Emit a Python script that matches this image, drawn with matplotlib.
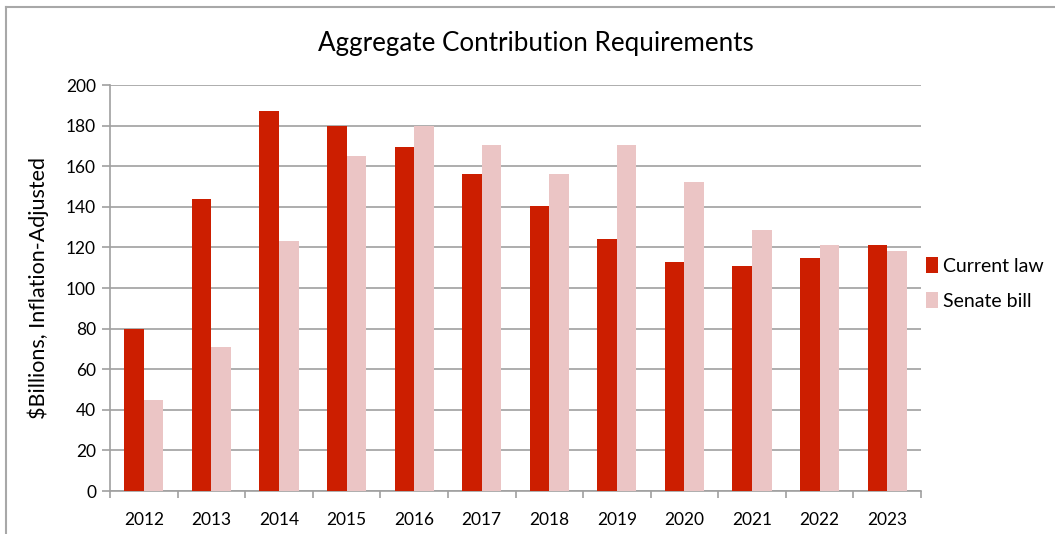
import matplotlib
matplotlib.use("Agg")
import matplotlib.pyplot as plt
from matplotlib.lines import Line2D
import numpy as np

years = ["2012", "2013", "2014", "2015", "2016", "2017", "2018", "2019", "2020", "2021", "2022", "2023"]
current_law = [80, 144, 187, 180, 169.5, 156, 140.5, 124, 113, 111, 115, 121]
senate_bill = [45, 71, 123, 165, 180, 170.5, 156, 170.5, 152, 128.5, 121, 118]

plt.rcParams['font.family'] = ['Lato', 'DejaVu Sans']

W, H = 1055, 534
AX_L, AX_R, AX_T, AX_B = 110, 921, 85, 491
AW, AH = AX_R - AX_L, AX_B - AX_T
fig = plt.figure(figsize=(W / 100, H / 100), dpi=100)
ax = fig.add_axes([AX_L / W, 1 - AX_B / H, AW / W, AH / H])

x = np.arange(len(years))
bw = 0.29
ax.bar(x - bw / 2, current_law, bw, color="#CC1E00", label="Current law", zorder=3)
ax.bar(x + bw / 2, senate_bill, bw, color="#EBC5C5", label="Senate bill", zorder=3)

ax.set_xlim(-0.5, len(years) - 0.5)
ax.set_ylim(0, 200)
ax.set_yticks(range(0, 201, 20))
ax.set_xticks(x)
ax.set_xticklabels(years)
ax.set_xticks(np.arange(-0.5, len(years), 1), minor=True)
ax.tick_params(axis='x', which='major', length=0, pad=15, labelsize=12.5)
ax.tick_params(axis='x', which='minor', length=5, color="#A0A0A0", width=1.2)
ax.tick_params(axis='y', length=6, color="#A0A0A0", width=1.2, labelsize=12.5, pad=4)
ax.yaxis.grid(True, color="#A0A0A0", linewidth=1.2, zorder=0)
for s in ["top", "right"]:
    ax.spines[s].set_visible(False)
for s in ["left", "bottom"]:
    ax.spines[s].set_color("#A0A0A0")
    ax.spines[s].set_linewidth(1.2)

ax.set_ylabel("$Billions, Inflation-Adjusted", fontsize=15.5)
ax.yaxis.set_label_coords(-(AX_L - 38) / AW, 0.5)
ax.yaxis.label.set_verticalalignment("center")

fig.text(536 / W, 1 - 44 / H, "Aggregate Contribution Requirements", ha="center", va="center",
         fontsize=18.7)

leg = ax.legend(loc="upper left", bbox_to_anchor=((926 - AX_L) / AW, (AX_B - 257) / AH),
                frameon=False, fontsize=14, handlelength=0.6, handleheight=0.9, handletextpad=0.3,
                labelspacing=0.9, borderaxespad=0, borderpad=0)

# outer frame (left and top)
fig.add_artist(Line2D([6 / W, 6 / W], [0, 1 - 7 / H], transform=fig.transFigure, color="#A8A8A8", linewidth=1.5))
fig.add_artist(Line2D([6 / W, 1], [1 - 7 / H, 1 - 7 / H], transform=fig.transFigure, color="#A8A8A8", linewidth=1.5))

fig.savefig("out.png", dpi=100)
